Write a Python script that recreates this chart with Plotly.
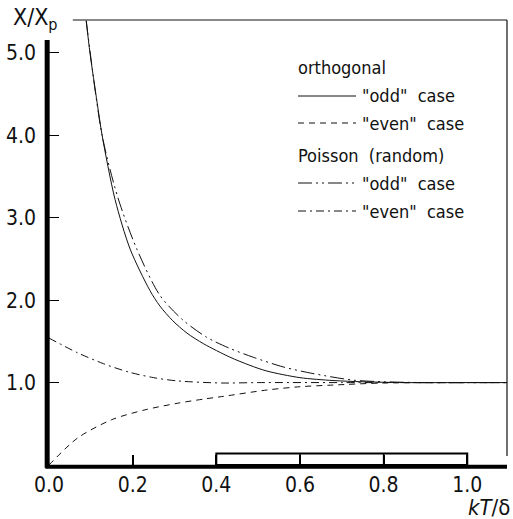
import plotly.graph_objects as go

# orthogonal, "odd" case (solid)
orth_odd_x = [0.089, 0.098, 0.115, 0.127, 0.158, 0.194, 0.241, 0.265, 0.296, 0.33, 0.37, 0.432, 0.48, 0.521, 0.6, 0.679, 0.75, 0.85, 1.0, 1.095]
orth_odd_y = [5.39, 5.0, 4.40, 4.0, 3.22, 2.62, 2.12, 1.93, 1.75, 1.6, 1.47, 1.31, 1.21, 1.14, 1.06, 1.025, 1.01, 1.0, 1.0, 1.0]
# orthogonal, "even" case (dashed)
orth_even_x = [0.0, 0.069, 0.15, 0.23, 0.308, 0.37, 0.413, 0.521, 0.6, 0.679, 0.8, 1.0, 1.095]
orth_even_y = [0.0, 0.33, 0.55, 0.67, 0.75, 0.80, 0.83, 0.91, 0.95, 0.97, 0.995, 1.0, 1.0]
# Poisson (random), "odd" case
pois_odd_x = [0.089, 0.127, 0.165, 0.21, 0.265, 0.32, 0.377, 0.43, 0.487, 0.56, 0.631, 0.727, 0.8, 0.9, 1.095]
pois_odd_y = [5.39, 4.0, 3.24, 2.62, 2.06, 1.76, 1.55, 1.42, 1.31, 1.19, 1.11, 1.03, 1.01, 1.0, 1.0]
# Poisson (random), "even" case
pois_even_x = [0.0, 0.069, 0.13, 0.189, 0.25, 0.308, 0.413, 0.5, 0.7, 1.095]
pois_even_y = [1.54, 1.36, 1.23, 1.13, 1.06, 1.02, 0.995, 1.0, 1.0, 1.0]

x_ticks = [0.0, 0.2, 0.4, 0.6, 0.8, 1.0]
x_ticklabels = ["0.0", "0.2", "0.4", "0.6", "0.8", "1.0"]
y_ticks = [1.0, 2.0, 3.0, 4.0, 5.0]
y_ticklabels = ["1.0", "2.0", "3.0", "4.0", "5.0"]

FONT = "Liberation Sans Narrow, DejaVu Sans Condensed, Roboto Condensed, Liberation Sans, sans-serif"
C = "#111111"

DASH_ORTH_EVEN = "6px,5px"
DASH_POIS_ODD = "14px,4px,2px,4px,2px,4px"
DASH_POIS_EVEN = "8px,4px,2px,4px"

fig = go.Figure()
series = [
    (orth_odd_x, orth_odd_y, "solid"),
    (orth_even_x, orth_even_y, DASH_ORTH_EVEN),
    (pois_odd_x, pois_odd_y, DASH_POIS_ODD),
    (pois_even_x, pois_even_y, DASH_POIS_EVEN),
]
for xs, ys, dash in series:
    fig.add_trace(go.Scatter(x=xs, y=ys, mode="lines",
                             line=dict(color=C, width=1, dash=dash, shape="spline", smoothing=0.8),
                             showlegend=False, hoverinfo="skip"))

shapes = []
# thick left axis
shapes.append(dict(type="line", xref="paper", yref="paper", x0=-0.004, x1=-0.004, y0=-0.006, y1=0.955,
                   line=dict(color="black", width=5)))
# thick bottom axis
shapes.append(dict(type="line", xref="paper", yref="paper", x0=-0.008, x1=1.0, y0=-0.004, y1=-0.004,
                   line=dict(color="black", width=4)))
# thin top frame
shapes.append(dict(type="line", xref="paper", yref="paper", x0=0.052, x1=1.0, y0=1.0, y1=1.0,
                   line=dict(color=C, width=1)))
# thin right frame
shapes.append(dict(type="line", xref="paper", yref="paper", x0=1.0, x1=1.0, y0=0.02, y1=1.0,
                   line=dict(color=C, width=1.2)))
# box on the bottom axis between 0.4 and 1.0
shapes.append(dict(type="rect", xref="x", yref="y", x0=0.4, x1=1.0, y0=0.0, y1=0.14,
                   line=dict(color="black", width=2)))
for xv in [0.6, 0.8]:
    shapes.append(dict(type="line", xref="x", yref="y", x0=xv, x1=xv, y0=0.0, y1=0.14,
                       line=dict(color="black", width=1.5)))

# legend
def px(x):
    return (x - 49) / 458.0

def py(y):
    return (465 - y) / 445.0

annotations = []
leg_items = [
    (96, "solid", '"odd"  case'),
    (123, DASH_ORTH_EVEN, '"even"  case'),
    (183, DASH_POIS_ODD, '"odd"  case'),
    (211, DASH_POIS_EVEN, '"even"  case'),
]
for yy, dash, label in leg_items:
    shapes.append(dict(type="line", xref="paper", yref="paper", x0=px(298), x1=px(356), y0=py(yy), y1=py(yy),
                       line=dict(color=C, width=1, dash=dash)))
    annotations.append(dict(xref="paper", yref="paper", x=px(360), y=py(yy), text=label, showarrow=False,
                            xanchor="left", yanchor="middle", font=dict(family=FONT, size=18, color=C)))
annotations.append(dict(xref="paper", yref="paper", x=px(296), y=py(68), text="orthogonal", showarrow=False,
                        xanchor="left", yanchor="middle", font=dict(family=FONT, size=18, color=C)))
annotations.append(dict(xref="paper", yref="paper", x=px(296), y=py(156), text="Poisson  (random)", showarrow=False,
                        xanchor="left", yanchor="middle", font=dict(family=FONT, size=18, color=C)))
# axis titles
annotations.append(dict(xref="paper", yref="paper", x=px(11), y=py(19), text="X/X<sub>p</sub>", showarrow=False,
                        xanchor="left", yanchor="middle", font=dict(family=FONT, size=23, color=C)))
annotations.append(dict(xref="paper", yref="paper", x=px(512), y=py(507), text="<i>kT</i>/δ", showarrow=False,
                        xanchor="right", yanchor="middle", font=dict(family=FONT, size=22, color=C)))

fig.update_layout(
    width=513, height=519,
    margin=dict(l=49, r=6, t=20, b=54),
    paper_bgcolor="white", plot_bgcolor="white",
    shapes=shapes, annotations=annotations,
    xaxis=dict(range=[0, 1.095], tickvals=x_ticks, ticktext=x_ticklabels, ticks="inside", ticklen=10,
               tickcolor="black", tickwidth=1.5, showgrid=False, zeroline=False, showline=False,
               tickfont=dict(family=FONT, size=21, color=C), ticklabelstandoff=5),
    yaxis=dict(range=[0, 5.4], tickvals=y_ticks, ticktext=y_ticklabels, ticks="inside", ticklen=10,
               tickcolor="black", tickwidth=1.2, showgrid=False, zeroline=False, showline=False,
               tickfont=dict(family=FONT, size=21, color=C), ticklabelstandoff=12),
)

fig.write_html("out.html")
